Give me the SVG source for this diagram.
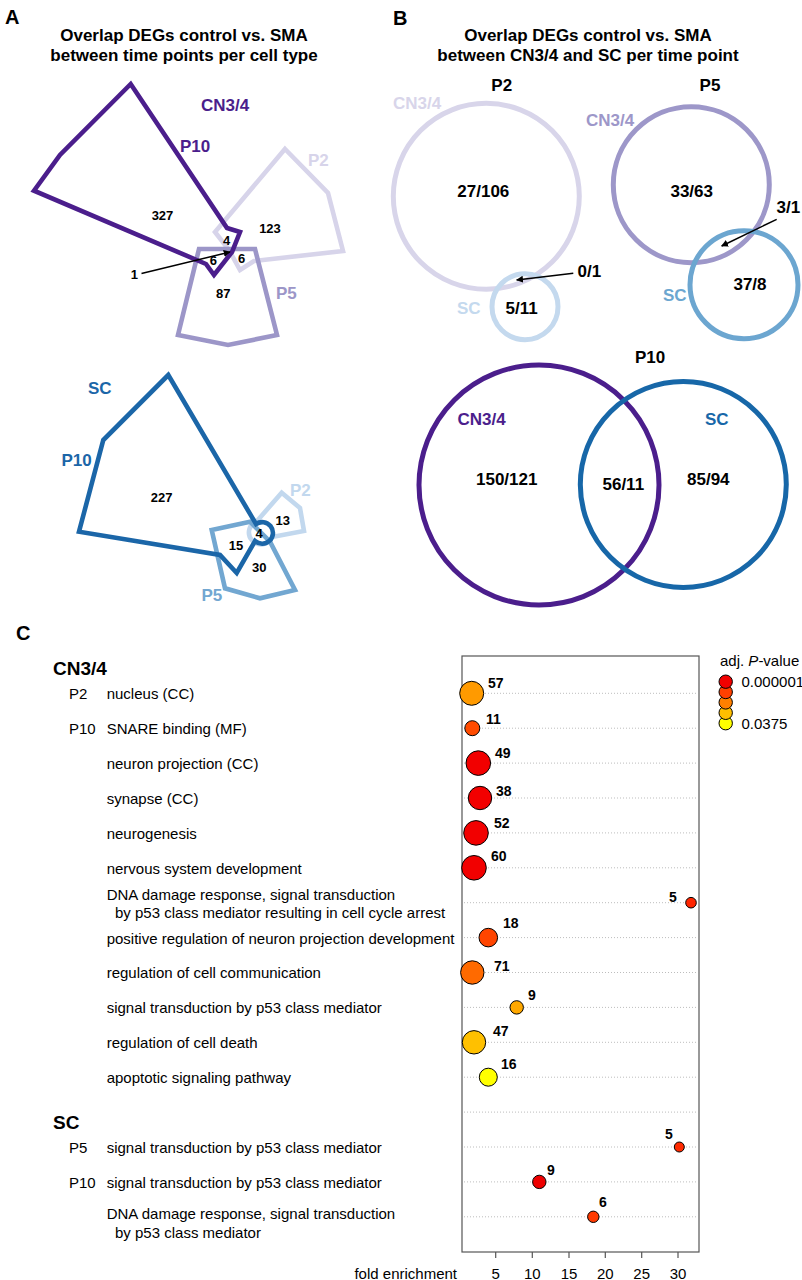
<svg xmlns="http://www.w3.org/2000/svg" width="802" height="1280" viewBox="0 0 802 1280">
<style>
text{font-family:"Liberation Sans",Arial,Helvetica,sans-serif;fill:#000}
.hd{font-size:20px;font-weight:bold}
.tt{font-size:17px;font-weight:bold;text-anchor:middle}
.lab{font-size:17px;font-weight:bold}
.n13{font-size:13px;font-weight:bold;text-anchor:middle}
.n17{font-size:17px;font-weight:bold;text-anchor:middle}
.poly{fill:none;stroke-width:4.6;stroke-linejoin:miter}
.ring{fill:none;stroke-width:5}
.t15{font-size:15px}
.grp{font-size:19px;font-weight:bold}
.nb{font-size:14px;font-weight:bold}
.grid{stroke:#bdbdbd;stroke-width:1;stroke-dasharray:1 2}
.bub{stroke:#000;stroke-width:1}
.arr{stroke:#000;stroke-width:1.5;fill:none;marker-end:url(#ah)}
.tick{font-size:15px;text-anchor:middle}
.leg{font-size:15px}
</style>
<defs>
<marker id="ah" viewBox="0 0 10 10" refX="9" refY="5" markerWidth="7" markerHeight="7" orient="auto" markerUnits="userSpaceOnUse">
<path d="M0,0 L10,5 L0,10 Z" fill="#000"/>
</marker>
</defs>
<rect width="802" height="1280" fill="#fff"/>

<!-- Panel headers -->
<g id="headers">
<text class="hd" x="5" y="24">A</text>
<text class="tt" x="184" y="41">Overlap DEGs control vs. SMA</text>
<text class="tt" x="184" y="61">between time points per cell type</text>
<text class="hd" x="393" y="25">B</text>
<text class="tt" x="588" y="41">Overlap DEGs control vs. SMA</text>
<text class="tt" x="588" y="61">between CN3/4 and SC per time point</text>
<text class="hd" x="16" y="640">C</text>
</g>

<!-- Panel A, CN3/4 -->
<g id="A-CN-P2">
<path class="poly" stroke="#D7D4EA" d="M285,149 L328,193 L343,251 L254,261 L240,270 L229,250 L215,232 Z"/>
<text class="lab" x="308" y="166" style="fill:#D7D4EA">P2</text>
</g>
<g id="A-CN-P5">
<path class="poly" stroke="#9C96C8" d="M199,249 L255,249 L277,335 L228,345 L178,335 Z"/>
<text class="lab" x="276" y="299" style="fill:#9C96C8">P5</text>
</g>
<g id="A-CN-P10">
<path class="poly" stroke="#4B1E8C" d="M130.7,84 L60,155 L34,190.7 L206,264 L214,275 L232,252 L240,232 L227,228 Z"/>
<text class="lab" x="180" y="152" style="fill:#4B1E8C">P10</text>
<text class="lab" x="201" y="111" style="fill:#4B1E8C">CN3/4</text>
</g>
<g id="A-CN-counts">
<text class="n13" x="162.5" y="220">327</text>
<text class="n13" x="270" y="232.5">123</text>
<text class="n13" x="226.7" y="245">4</text>
<text class="n13" x="213.3" y="265">6</text>
<text class="n13" x="241.7" y="262.5">6</text>
<text class="n13" x="223.3" y="297.5">87</text>
<text class="n13" x="134.3" y="278.5">1</text>
</g>

<!-- Panel A, SC -->
<g id="A-SC-P2">
<path class="poly" stroke="#C2D8EE" d="M281.7,492.7 L300,508 L304,531 L272,537 A12,12 0 1 1 257,521 Z"/>
<text class="lab" x="290" y="495.5" style="fill:#C2D8EE">P2</text>
</g>
<g id="A-SC-P5">
<path class="poly" stroke="#72A7D1" d="M211.7,530 L250,521.7 L270,541.7 L295,590 L260,598.3 L225,588.3 Z"/>
<text class="lab" x="201.5" y="601" style="fill:#72A7D1">P5</text>
</g>
<g id="A-SC-P10">
<path class="poly" stroke="#1B66A8" d="M168.3,375 L103.3,440 L79,531.7 L220,555 L236.7,573 L255,541 A10.8,10.8 0 1 0 256,524 Z"/>
<text class="lab" x="61.5" y="465.5" style="fill:#1B66A8">P10</text>
<text class="lab" x="88" y="394" style="fill:#1B66A8">SC</text>
</g>
<g id="A-SC-counts">
<text class="n13" x="161.7" y="501.5">227</text>
<text class="n13" x="282.7" y="524.5">13</text>
<text class="n13" x="259" y="537.5">4</text>
<text class="n13" x="236" y="549.5">15</text>
<text class="n13" x="259.3" y="572">30</text>
</g>

<!-- Panel B -->
<g id="B-P2">
<text class="n17" x="501.7" y="91">P2</text>
<circle class="ring" cx="486.3" cy="196.3" r="93" stroke="#D8D5EA"/>
<circle class="ring" cx="525" cy="306.7" r="33" stroke="#C4D9EE"/>
<text class="lab" x="393" y="108.5" style="fill:#D8D5EA">CN3/4</text>
<text class="lab" x="457" y="313.5" style="fill:#C4D9EE">SC</text>
<text class="n17" x="483.3" y="197">27/106</text>
<text class="n17" x="521.7" y="313.5">5/11</text>
<text class="n17" x="589.3" y="276.5">0/1</text>
</g>
<g id="B-P5">
<text class="n17" x="710" y="91">P5</text>
<circle class="ring" cx="691.3" cy="184.7" r="78" stroke="#9D97C9"/>
<circle class="ring" cx="744" cy="284.7" r="54" stroke="#6CA6D0"/>
<text class="lab" x="586" y="126" style="fill:#9D97C9">CN3/4</text>
<text class="lab" x="663" y="301" style="fill:#6CA6D0">SC</text>
<text class="n17" x="691.7" y="197">33/63</text>
<text class="n17" x="788.3" y="212.5">3/1</text>
<text class="n17" x="750" y="290">37/8</text>
</g>
<g id="B-P10">
<text class="n17" x="650" y="363">P10</text>
<circle class="ring" cx="539" cy="485" r="120" stroke="#4B1E8C"/>
<circle class="ring" cx="683.3" cy="484.5" r="103" stroke="#1767A8"/>
<text class="lab" x="457.5" y="424.5" style="fill:#4B1E8C">CN3/4</text>
<text class="lab" x="705" y="424.5" style="fill:#1767A8">SC</text>
<text class="n17" x="506.7" y="484.5">150/121</text>
<text class="n17" x="623.3" y="489.5">56/11</text>
<text class="n17" x="708.3" y="484.5">85/94</text>
</g>

<!-- connectors -->
<g id="connectors">
<line class="arr" x1="141.5" y1="273.5" x2="230" y2="252"/>
<line class="arr" x1="573.3" y1="273.3" x2="516.7" y2="280"/>
<line class="arr" x1="776.7" y1="219.3" x2="721.7" y2="246"/>
</g>

<!-- Panel C labels -->
<g id="C-labels">
<text class="grp" x="53" y="675">CN3/4</text>
<text class="t15" x="69" y="699">P2</text>
<text class="t15" x="106.7" y="699">nucleus (CC)</text>
<text class="t15" x="69" y="734">P10</text>
<text class="t15" x="106.7" y="734">SNARE binding (MF)</text>
<text class="t15" x="106.7" y="769">neuron projection (CC)</text>
<text class="t15" x="106.7" y="804">synapse (CC)</text>
<text class="t15" x="106.7" y="839">neurogenesis</text>
<text class="t15" x="106.7" y="874">nervous system development</text>
<text class="t15" x="106.7" y="899.5">DNA damage response, signal transduction</text>
<text class="t15" x="115" y="918">by p53 class mediator resulting in cell cycle arrest</text>
<text class="t15" x="106.7" y="943.5">positive regulation of neuron projection development</text>
<text class="t15" x="106.7" y="978.3">regulation of cell communication</text>
<text class="t15" x="106.7" y="1013.3">signal transduction by p53 class mediator</text>
<text class="t15" x="106.7" y="1048">regulation of cell death</text>
<text class="t15" x="106.7" y="1083">apoptotic signaling pathway</text>
<text class="grp" x="53" y="1128.5">SC</text>
<text class="t15" x="69" y="1153">P5</text>
<text class="t15" x="106.7" y="1153">signal transduction by p53 class mediator</text>
<text class="t15" x="69" y="1188">P10</text>
<text class="t15" x="106.7" y="1188">signal transduction by p53 class mediator</text>
<text class="t15" x="106.7" y="1219">DNA damage response, signal transduction</text>
<text class="t15" x="115" y="1237.5">by p53 class mediator</text>
</g>

<!-- Panel C plot -->
<g id="C-plot">
<g id="grid">
<line class="grid" x1="464" y1="693.3" x2="697" y2="693.3"/>
<line class="grid" x1="464" y1="728.2" x2="697" y2="728.2"/>
<line class="grid" x1="464" y1="763.1" x2="697" y2="763.1"/>
<line class="grid" x1="464" y1="798" x2="697" y2="798"/>
<line class="grid" x1="464" y1="832.9" x2="697" y2="832.9"/>
<line class="grid" x1="464" y1="867.8" x2="697" y2="867.8"/>
<line class="grid" x1="464" y1="902.7" x2="697" y2="902.7"/>
<line class="grid" x1="464" y1="937.6" x2="697" y2="937.6"/>
<line class="grid" x1="464" y1="972.5" x2="697" y2="972.5"/>
<line class="grid" x1="464" y1="1007.4" x2="697" y2="1007.4"/>
<line class="grid" x1="464" y1="1042.3" x2="697" y2="1042.3"/>
<line class="grid" x1="464" y1="1077.2" x2="697" y2="1077.2"/>
<line class="grid" x1="464" y1="1112.1" x2="697" y2="1112.1"/>
<line class="grid" x1="464" y1="1147" x2="697" y2="1147"/>
<line class="grid" x1="464" y1="1181.9" x2="697" y2="1181.9"/>
<line class="grid" x1="464" y1="1216.8" x2="697" y2="1216.8"/>
</g>
<rect x="462" y="656" width="237" height="596" fill="none" stroke="#555" stroke-width="1.2"/>
<g id="axis" stroke="#555" stroke-width="1.2">
<line x1="495.7" y1="1252" x2="495.7" y2="1258"/>
<line x1="532.3" y1="1252" x2="532.3" y2="1258"/>
<line x1="569" y1="1252" x2="569" y2="1258"/>
<line x1="605.3" y1="1252" x2="605.3" y2="1258"/>
<line x1="641.7" y1="1252" x2="641.7" y2="1258"/>
<line x1="678" y1="1252" x2="678" y2="1258"/>
</g>
<text class="tick" x="495.7" y="1279">5</text>
<text class="tick" x="532.3" y="1279">10</text>
<text class="tick" x="569" y="1279">15</text>
<text class="tick" x="605.3" y="1279">20</text>
<text class="tick" x="641.7" y="1279">25</text>
<text class="tick" x="678" y="1279">30</text>
<text class="t15" x="457" y="1279" text-anchor="end">fold enrichment</text>

<g id="bubbles">
<circle class="bub" cx="471.7" cy="693.3" r="12" fill="#FF9A00"/>
<circle class="bub" cx="472.3" cy="728.2" r="7.5" fill="#FF4B00"/>
<circle class="bub" cx="478.3" cy="763.1" r="12.3" fill="#F20000"/>
<circle class="bub" cx="480" cy="798" r="11.7" fill="#F20000"/>
<circle class="bub" cx="476" cy="832.9" r="12.3" fill="#F20000"/>
<circle class="bub" cx="474" cy="867.8" r="12.3" fill="#F20000"/>
<circle class="bub" cx="691" cy="902.7" r="5.3" fill="#FF2500"/>
<circle class="bub" cx="488.3" cy="937.6" r="9.3" fill="#FF4500"/>
<circle class="bub" cx="472.3" cy="972.5" r="11.7" fill="#FF6A00"/>
<circle class="bub" cx="516.7" cy="1007.4" r="6.7" fill="#FFA800"/>
<circle class="bub" cx="474" cy="1042.3" r="11.7" fill="#FFC000"/>
<circle class="bub" cx="488.3" cy="1077.2" r="9" fill="#FFFF00"/>
<circle class="bub" cx="679.3" cy="1147" r="5" fill="#FF2A00"/>
<circle class="bub" cx="539.3" cy="1181.9" r="6.7" fill="#EE0000"/>
<circle class="bub" cx="593.3" cy="1216.8" r="5.7" fill="#FF3A00"/>
</g>
<g id="bubble-labels">
<text class="nb" x="488" y="688">57</text>
<text class="nb" x="486" y="724">11</text>
<text class="nb" x="495" y="758">49</text>
<text class="nb" x="496" y="796">38</text>
<text class="nb" x="494" y="828">52</text>
<text class="nb" x="491" y="861">60</text>
<text class="nb" x="669" y="902">5</text>
<text class="nb" x="503" y="928">18</text>
<text class="nb" x="494" y="971">71</text>
<text class="nb" x="528" y="1000">9</text>
<text class="nb" x="493" y="1036">47</text>
<text class="nb" x="501" y="1068.5">16</text>
<text class="nb" x="665" y="1138.5">5</text>
<text class="nb" x="547" y="1175">9</text>
<text class="nb" x="599" y="1207">6</text>
</g>
</g>

<!-- Legend -->
<g id="legend">
<text class="leg" x="720" y="666">adj. <tspan font-style="italic">P</tspan>-value</text>
<circle class="bub" cx="725.7" cy="723.2" r="6.7" fill="#FFFF00"/>
<circle class="bub" cx="725.7" cy="712.8" r="6.7" fill="#FFBF00"/>
<circle class="bub" cx="725.7" cy="702.4" r="6.7" fill="#FF8000"/>
<circle class="bub" cx="725.7" cy="692" r="6.7" fill="#FF4000"/>
<circle class="bub" cx="725.7" cy="681.7" r="6.7" fill="#F20000"/>
<text class="leg" x="741.5" y="687">0.000001</text>
<text class="leg" x="741.5" y="728.5">0.0375</text>
</g>
</svg>
